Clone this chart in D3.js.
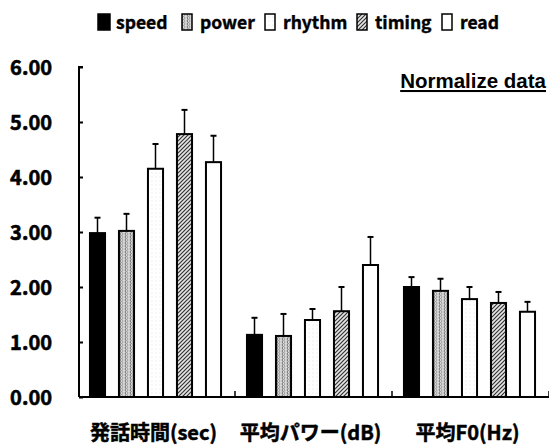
<!DOCTYPE html>
<html>
<head>
<meta charset="utf-8">
<script src="https://cdn.jsdelivr.net/npm/d3@7"></script>
<style>
  body { margin: 0; background: #fff; }
  svg { display: block; }
</style>
</head>
<body>
<svg id="chart" width="549" height="446"></svg>
<script>
const categories = ['発話時間(sec)', '平均パワー(dB)', '平均F0(Hz)'];
const series = ['speed', 'power', 'rhythm', 'timing', 'read'];
const yTicks = [0, 1, 2, 3, 4, 5, 6];

// means per series, one per category
const speedVals = [2.98, 1.13, 2.0];
const powerVals = [3.02, 1.11, 1.93];
const rhythmVals = [4.15, 1.4, 1.78];
const timingVals = [4.78, 1.56, 1.71];
const readVals = [4.27, 2.4, 1.55];

// upper error bar tops
const speedErr = [3.26, 1.44, 2.18];
const powerErr = [3.33, 1.51, 2.15];
const rhythmErr = [4.6, 1.6, 2.0];
const timingErr = [5.22, 2.0, 1.91];
const readErr = [4.75, 2.91, 1.73];

const vals = { speed: speedVals, power: powerVals, rhythm: rhythmVals, timing: timingVals, read: readVals };
const errs = { speed: speedErr, power: powerErr, rhythm: rhythmErr, timing: timingErr, read: readErr };

const svg = d3.select('#chart');
const font = "'Noto Sans CJK JP', 'Noto Sans', sans-serif";

// patterns
const defs = svg.append('defs');
const pPower = defs.append('pattern').attr('id', 'pat-power')
  .attr('patternUnits', 'userSpaceOnUse').attr('width', 5).attr('height', 6);
pPower.append('rect').attr('width', 5).attr('height', 6).attr('fill', '#d8d8d8');
pPower.append('path').attr('d', 'M1,0 Q3,1.5 1,3 Q3,4.5 1,6').attr('stroke', '#555').attr('stroke-width', 0.8).attr('fill', 'none');
pPower.append('path').attr('d', 'M4,0 Q2,1.5 4,3 Q2,4.5 4,6').attr('stroke', '#777').attr('stroke-width', 0.6).attr('fill', 'none');

const pRhythm = defs.append('pattern').attr('id', 'pat-rhythm')
  .attr('patternUnits', 'userSpaceOnUse').attr('width', 4).attr('height', 4);
pRhythm.append('rect').attr('width', 4).attr('height', 4).attr('fill', '#fff');
pRhythm.append('circle').attr('cx', 1).attr('cy', 1).attr('r', 0.4).attr('fill', '#bbb');

const pTiming = defs.append('pattern').attr('id', 'pat-timing')
  .attr('patternUnits', 'userSpaceOnUse').attr('width', 4).attr('height', 4);
pTiming.append('rect').attr('width', 4).attr('height', 4).attr('fill', '#e6e6e6');
pTiming.append('path').attr('d', 'M0,4 L4,0 M-1,1 L1,-1 M3,5 L5,3').attr('stroke', '#333').attr('stroke-width', 1.2);

const fills = {
  speed: '#000',
  power: 'url(#pat-power)',
  rhythm: 'url(#pat-rhythm)',
  timing: 'url(#pat-timing)',
  read: '#fff'
};

const x0 = d3.scaleBand().domain(categories).range([79, 550]);
const x1 = d3.scaleBand().domain(series).range([-2, 155]).paddingInner(0.48).paddingOuter(0.447);
const y = d3.scaleLinear().domain([0, 6]).range([397, 67]);

// y axis
const yAxis = d3.axisLeft(y).tickValues(yTicks).tickSize(-4).tickPadding(27).tickFormat(d3.format('.2f'));
const ga = svg.append('g').attr('transform', 'translate(79,0)').call(yAxis);
ga.select('.domain').attr('stroke-width', 2).attr('d', `M4,${y(6)}H0V${y(0)}`);
ga.selectAll('.tick line').attr('stroke-width', 2);
ga.selectAll('.tick text')
  .attr('font-family', font).attr('font-weight', 'bold').attr('font-size', 20)
  .attr('fill', '#000').attr('stroke', '#000').attr('stroke-width', 0.6)
  .attr('dy', '0.36em');

// x axis line and group ticks
svg.append('line').attr('x1', 79).attr('x2', 549).attr('y1', y(0)).attr('y2', y(0))
  .attr('stroke', '#000').attr('stroke-width', 2);
svg.selectAll('.gtick').data(categories).join('line')
  .attr('class', 'gtick')
  .attr('x1', (d) => x0(d) + x0.bandwidth() - 1)
  .attr('x2', (d) => x0(d) + x0.bandwidth() - 1)
  .attr('y1', y(0)).attr('y2', y(0) - 6)
  .attr('stroke', '#000').attr('stroke-width', 1.5);

// bars
const groups = svg.selectAll('.grp').data(categories).join('g')
  .attr('class', 'grp')
  .attr('transform', (d) => `translate(${x0(d)},0)`);

groups.each(function (cat, ci) {
  const g = d3.select(this);
  series.forEach((s) => {
    const v = vals[s][ci];
    const e = errs[s][ci];
    const cx = x1(s) + x1.bandwidth() / 2;
    g.append('line')
      .attr('x1', cx).attr('x2', cx).attr('y1', y(v)).attr('y2', y(e))
      .attr('stroke', '#000').attr('stroke-width', 1.5);
    g.append('line')
      .attr('x1', cx - 3).attr('x2', cx + 3).attr('y1', y(e)).attr('y2', y(e))
      .attr('stroke', '#000').attr('stroke-width', 2);
    g.append('rect')
      .attr('x', x1(s)).attr('width', x1.bandwidth())
      .attr('y', y(v)).attr('height', y(0) - y(v))
      .attr('fill', fills[s]).attr('stroke', '#000').attr('stroke-width', 2);
  });
});

// category labels
svg.selectAll('.cat').data(categories).join('text')
  .attr('class', 'cat')
  .attr('x', (d) => x0(d) + x0.bandwidth() / 2 - 4)
  .attr('y', 440)
  .attr('text-anchor', 'middle')
  .attr('font-family', font).attr('font-weight', 'bold').attr('font-size', 20)
  .attr('stroke', '#000').attr('stroke-width', 0.5)
  .text((d) => d);

// legend
const legendX = [97, 181, 264, 356, 441];
const lg = svg.selectAll('.leg').data(series).join('g')
  .attr('class', 'leg')
  .attr('transform', (d, i) => `translate(${legendX[i]},0)`);
lg.append('rect')
  .attr('x', 1).attr('y', 14).attr('width', (d, i) => (i === 0 ? 12 : 10)).attr('height', 16)
  .attr('fill', (d) => fills[d]).attr('stroke', '#000').attr('stroke-width', 1.5);
lg.append('text')
  .attr('x', 19).attr('y', 29)
  .attr('font-family', font).attr('font-weight', 'bold').attr('font-size', 17.5)
  .attr('stroke', '#000').attr('stroke-width', 0.4)
  .text((d) => d);

// note
svg.append('text')
  .attr('x', 546).attr('y', 88)
  .attr('text-anchor', 'end')
  .attr('font-family', "'Liberation Sans', Arial, sans-serif").attr('font-weight', 'bold')
  .attr('font-size', 20.5)
  .attr('text-decoration', 'underline')
  .text('Normalize data');
</script>
</body>
</html>
